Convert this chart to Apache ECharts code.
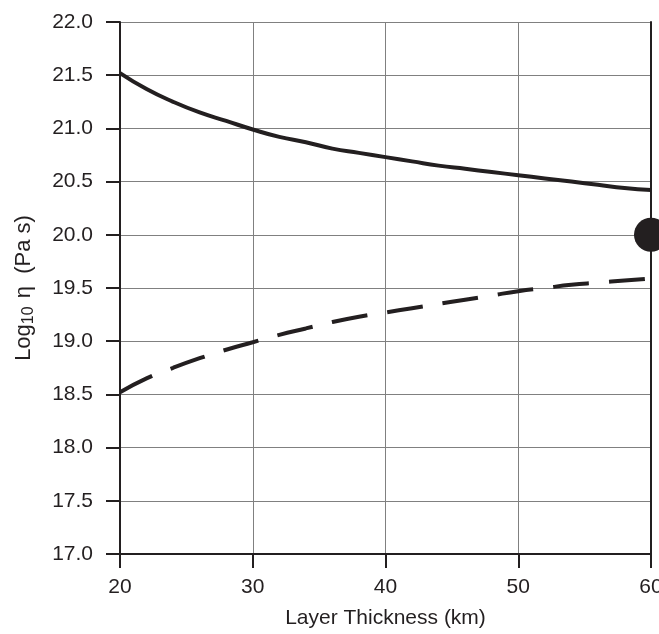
<!DOCTYPE html>
<html>
<head>
<meta charset="utf-8">
<script src="https://cdn.jsdelivr.net/npm/echarts@6/dist/echarts.min.js"></script>
<style>
  html, body { margin: 0; padding: 0; background: #fff; }
  #chart { width: 659px; height: 634px; }
</style>
</head>
<body>
<div id="chart"></div>
<script>
// layer thickness (km)
const thickness = [20, 22, 24, 26, 28, 30, 32, 34, 36, 38, 40, 42, 44, 46, 48, 50, 52, 54, 56, 58, 60]
// upper bound (solid) and lower bound (dashed), log10 viscosity
const upperVisc = [21.52, 21.37, 21.25, 21.15, 21.07, 20.99, 20.92, 20.87, 20.81, 20.77, 20.73,
  20.69, 20.65, 20.62, 20.59, 20.56, 20.53, 20.50, 20.47, 20.44, 20.42]
const lowerVisc = [18.52, 18.65, 18.75, 18.84, 18.92, 18.99, 19.06, 19.12, 19.18, 19.23, 19.27,
  19.31, 19.35, 19.39, 19.43, 19.47, 19.50, 19.53, 19.55, 19.57, 19.59]
// single estimate
const pointEstimate = [[60, 20.0]]

const ink = '#231f20'
const font = 'Liberation Sans, Arial, sans-serif'

const chart = echarts.init(document.getElementById('chart'))

chart.setOption({
  animation: false,
  grid: {
    left: 120,
    right: 8,
    top: 22,
    bottom: 80,
    outerBoundsMode: 'none'
  },
  xAxis: {
    type: 'value',
    min: 20,
    max: 60,
    interval: 10,
    name: 'Layer Thickness (km)',
    nameLocation: 'middle',
    nameGap: 54,
    nameTextStyle: { color: ink, fontSize: 21, fontFamily: font },
    axisLine: { show: true, onZero: false, lineStyle: { color: ink, width: 2 } },
    axisTick: { show: true, length: 14, lineStyle: { color: ink, width: 2 } },
    axisLabel: { color: ink, fontSize: 21, fontFamily: font, margin: 23 },
    splitLine: { show: true, lineStyle: { color: '#808080', width: 1 } }
  },
  yAxis: [{
    type: 'value',
    min: 17,
    max: 22,
    interval: 0.5,
    name: 'Log{sub|10} η  (Pa s)',
    nameLocation: 'middle',
    nameGap: 83,
    nameTextStyle: {
      color: ink,
      fontSize: 22,
      fontFamily: font,
      rich: {
        sub: { fontSize: 16, fontFamily: font, color: ink, verticalAlign: 'bottom', padding: [10, 2, 0, 0] }
      }
    },
    axisLine: { show: true, onZero: false, lineStyle: { color: ink, width: 2 } },
    axisTick: { show: true, length: 14, lineStyle: { color: ink, width: 2 } },
    axisLabel: {
      color: ink,
      fontSize: 21,
      fontFamily: font,
      margin: 27,
      formatter: v => v.toFixed(1)
    },
    splitLine: { show: true, lineStyle: { color: '#808080', width: 1 } }
  }, {
    type: 'value',
    position: 'right',
    min: 17,
    max: 22,
    interval: 0.5,
    axisLine: { show: true, onZero: false, lineStyle: { color: ink, width: 2 } },
    axisTick: { show: false },
    axisLabel: { show: false },
    splitLine: { show: false }
  }],
  series: [{
    name: 'upper',
    type: 'line',
    data: thickness.map((t, i) => [t, upperVisc[i]]),
    showSymbol: false,
    smooth: true,
    lineStyle: { color: ink, width: 4 }
  }, {
    name: 'lower',
    type: 'line',
    data: thickness.map((t, i) => [t, lowerVisc[i]]),
    showSymbol: false,
    smooth: true,
    lineStyle: { color: ink, width: 4, type: [36, 20] }
  }, {
    name: 'estimate',
    type: 'scatter',
    data: pointEstimate,
    symbolSize: 34,
    itemStyle: { color: ink, opacity: 1 },
    z: 5
  }]
})
</script>
</body>
</html>
